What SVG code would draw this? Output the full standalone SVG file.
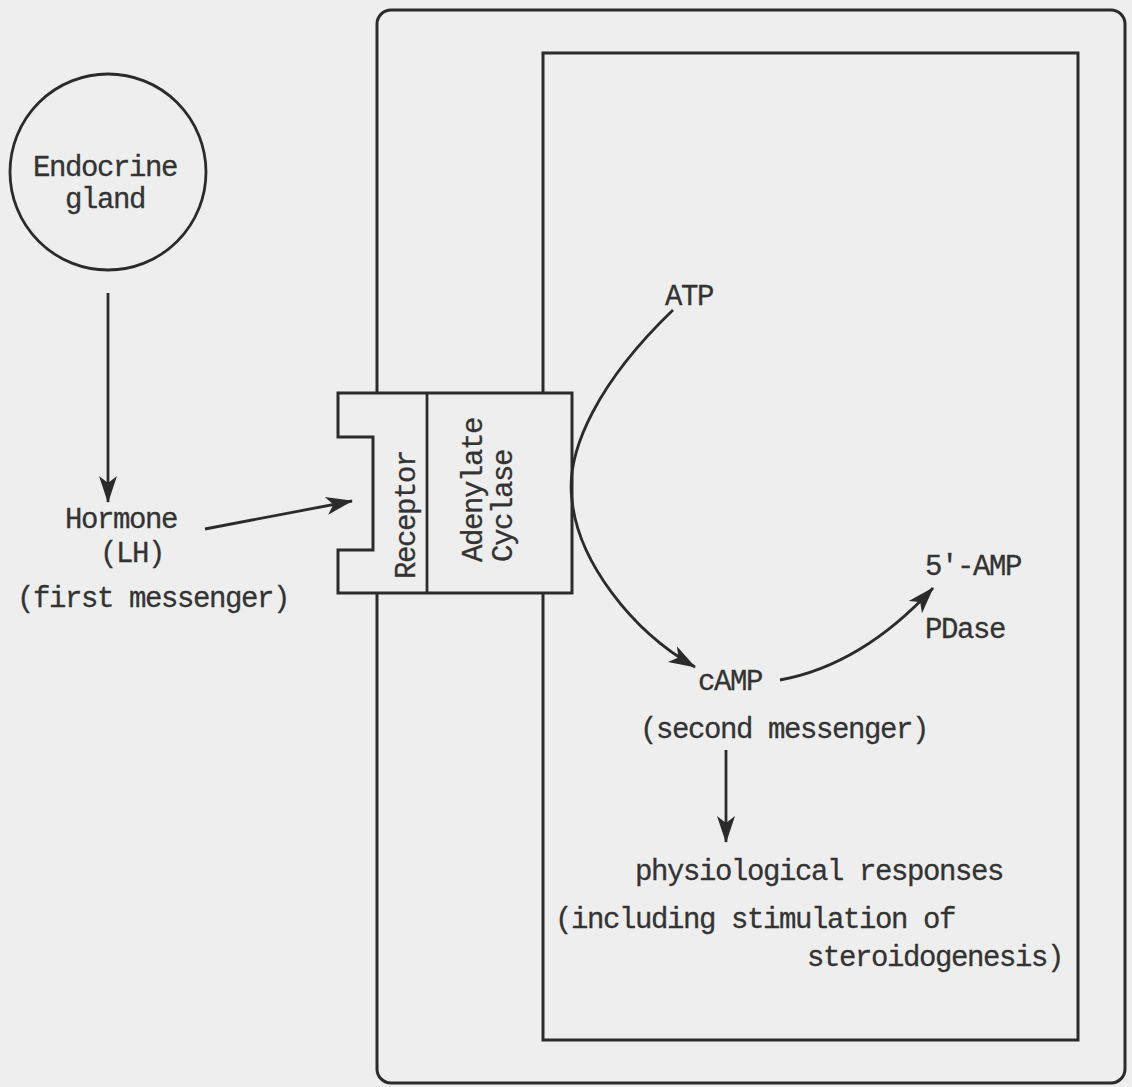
<svg xmlns="http://www.w3.org/2000/svg" width="1132" height="1087" viewBox="0 0 1132 1087">
<style>
  .t { font-family: "Liberation Mono", "DejaVu Sans Mono", monospace; font-size: 29px; letter-spacing: -1.4px; fill: #333; stroke: #333; stroke-width: 0.3; }
  .ln { fill: none; stroke: #2b2b2b; stroke-width: 2.8; }
  .bx { fill: #eeeeee; stroke: #2b2b2b; stroke-width: 3; }
</style>
<defs>
  <marker id="ah" markerUnits="userSpaceOnUse" markerWidth="30" markerHeight="24" refX="26" refY="10" orient="auto" viewBox="0 0 30 20">
    <path d="M0,1 L27,10 L0,19 L7,10 z" fill="#2b2b2b"/>
  </marker>
</defs>
<rect x="0" y="0" width="1132" height="1087" fill="#eeeeee"/>
<g id="cell">
  <rect class="bx" x="377" y="10" width="748" height="1073" rx="14" ry="14"/>
  <rect class="bx" x="543" y="53" width="535" height="987"/>
</g>
<g id="gland">
  <circle class="ln" cx="108" cy="172" r="98"/>
  <text class="t" x="33" y="176">Endocrine</text>
  <text class="t" x="65" y="208">gland</text>
</g>
<g id="hormone">
  <text class="t" x="65" y="528">Hormone</text>
  <text class="t" x="100" y="562">(LH)</text>
  <text class="t" x="17" y="607">(first messenger)</text>
</g>
<g id="receptor-complex">
  <path class="bx" d="M338,393 L572,393 L572,593 L338,593 L338,550 L373,550 L373,437 L338,437 Z"/>
  <line class="ln" x1="427" y1="393" x2="427" y2="593"/>
  <text class="t" transform="translate(415,579) rotate(-90)">Receptor</text>
  <text class="t" transform="translate(482,562) rotate(-90)">Adenylate</text>
  <text class="t" transform="translate(512,562) rotate(-90)">Cyclase</text>
</g>
<g id="atp">
  <text class="t" x="665" y="305">ATP</text>
</g>
<g id="camp">
  <text class="t" x="698" y="690">cAMP</text>
  <text class="t" x="640" y="738">(second messenger)</text>
</g>
<g id="amp">
  <text class="t" x="925" y="575">5'-AMP</text>
  <text class="t" x="925" y="638">PDase</text>
</g>
<g id="responses">
  <text class="t" x="635" y="880">physiological responses</text>
  <text class="t" x="555" y="928">(including stimulation of</text>
  <text class="t" x="807" y="966">steroidogenesis)</text>
</g>
<g id="connectors">
  <line class="ln" x1="108" y1="293" x2="108" y2="502" marker-end="url(#ah)"/>
  <line class="ln" x1="205" y1="529" x2="352" y2="501" marker-end="url(#ah)"/>
  <path class="ln" d="M673,310 C600,380 565,450 572,500 C578,560 630,630 695,667" marker-end="url(#ah)"/>
  <path class="ln" d="M780,680 Q862,665 933,588" marker-end="url(#ah)"/>
  <line class="ln" x1="726" y1="750" x2="726" y2="842" marker-end="url(#ah)"/>
</g>
</svg>
